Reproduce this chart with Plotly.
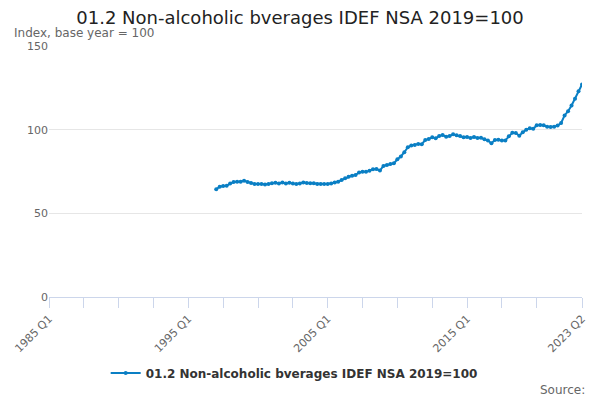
import plotly.graph_objects as go

# quarters from 1985 Q1 to 2023 Q2 (the axis spans all of them)
quarters = [f"{y} Q{q}" for y in range(1985, 2024) for q in range(1, 5)][:154]

# index values, 1997 Q1 .. 2023 Q2
series_start = "1997 Q1"
index_values = [
    64.4, 65.9, 66.3, 66.5,
    67.8, 68.7, 68.9, 68.9,
    69.4, 68.7, 68.2, 67.5,
    67.5, 67.6, 67.2, 67.6,
    68.0, 68.3, 67.9, 68.5,
    67.9, 68.3, 67.9, 67.5,
    67.9, 68.5, 68.2, 68.0,
    68.0, 67.6, 67.5, 67.6,
    67.5, 67.9, 68.5, 68.9,
    69.9, 70.9, 71.8, 72.5,
    72.9, 74.4, 74.9, 74.8,
    75.5, 76.3, 76.5, 75.6,
    78.3, 78.9, 79.5, 79.9,
    82.3, 84.0, 86.5, 89.5,
    90.5, 90.9, 91.5, 91.3,
    93.8, 94.4, 95.4, 94.8,
    96.2, 96.8, 95.8, 96.2,
    97.2, 96.6, 96.2, 95.4,
    95.6, 95.0, 95.6, 95.0,
    95.2, 94.2, 93.5, 91.9,
    93.8, 93.9, 93.5, 93.6,
    96.0, 98.2, 98.0, 96.4,
    98.5, 100.0, 100.8, 100.5,
    102.6, 102.8, 102.6, 101.8,
    101.6, 101.8, 102.5, 104.0,
    108.5, 111.0, 114.5, 118.5,
    123.0, 127.0,
]
start = quarters.index(series_start)
series_x = quarters[start:start + len(index_values)]

series_name = "01.2 Non-alcoholic bverages IDEF NSA 2019=100"
tick_positions = quarters[0:150:10] + [quarters[-1]]
labelled = ["1985 Q1", "1995 Q1", "2005 Q1", "2015 Q1", "2023 Q2"]
tick_labels = [q if q in labelled else "" for q in tick_positions]

blue = "#0a7fc4"
grey = "#666666"
font = "DejaVu Sans, Verdana, sans-serif"

fig = go.Figure()
fig.add_trace(go.Scatter(
    x=series_x, y=index_values,
    mode="lines+markers",
    line=dict(color=blue, width=2),
    marker=dict(color=blue, size=4),
    name="<b>" + series_name + "</b>",
))

fig.update_layout(
    width=600, height=400,
    paper_bgcolor="white", plot_bgcolor="white",
    font=dict(family=font, color=grey, size=11),
    margin=dict(l=47, r=17, t=46, b=103),
    title=dict(text="01.2 Non-alcoholic bverages IDEF NSA 2019=100",
               x=0.5, xanchor="center", y=0.955, yanchor="middle",
               font=dict(size=18, color="#222222", family=font)),
    showlegend=True,
    legend=dict(orientation="h", x=0.46, xanchor="center", y=-0.303, yanchor="middle",
                itemwidth=30,
                font=dict(size=12, color="#333333", family=font)),
    xaxis=dict(
        type="category", categoryorder="array", categoryarray=quarters,
        range=[0, len(quarters) - 1],
        tickmode="array", tickvals=tick_positions, ticktext=tick_labels,
        tickangle=-45, ticks="outside", ticklen=10, tickcolor="#ccd6eb",
        showline=True, linecolor="#ccd6eb", linewidth=1,
        showgrid=False, zeroline=False,
        tickfont=dict(size=11, color=grey),
    ),
    yaxis=dict(
        range=[0, 150], tickvals=[0, 50, 100, 150],
        showgrid=True, gridcolor="#e6e6e6", zeroline=False,
        showline=False, ticks="", tickfont=dict(size=11, color=grey),
    ),
    annotations=[
        dict(text="Index, base year = 100", xref="paper", yref="paper",
             x=-0.069, y=1.05, xanchor="left", yanchor="middle", showarrow=False,
             font=dict(size=12, color=grey)),
        dict(text="Source:", xref="paper", yref="paper",
             x=1.009, y=-0.37, xanchor="right", yanchor="middle", showarrow=False,
             font=dict(size=12, color=grey)),
    ],
)

fig.write_html("out.html", config={"displayModeBar": False},
               post_script="document.body.style.margin='0';")
